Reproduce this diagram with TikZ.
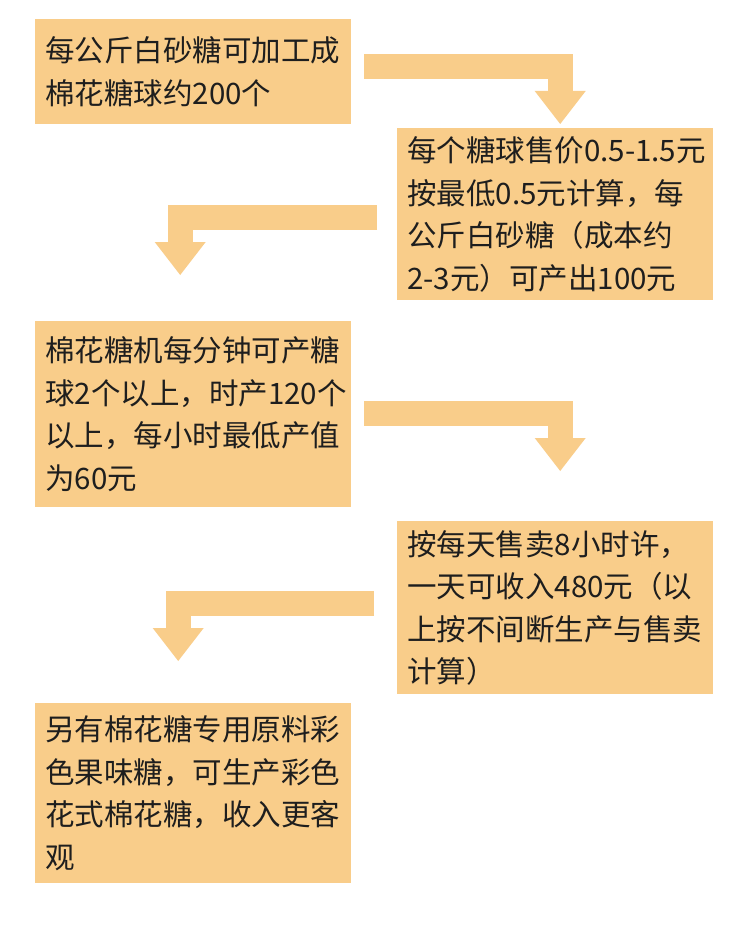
\documentclass[tikz,border=0pt]{standalone}
\usepackage{fontspec}
\newfontfamily\cjk{Noto Sans CJK SC}
\usetikzlibrary{positioning,arrows.meta,calc}
\definecolor{cBox}{HTML}{F9CD8A}
\definecolor{cInk}{HTML}{1E1E1E}

\begin{document}
\begin{tikzpicture}[x=1pt,y=1pt,
      stepbox/.style={fill=cBox,text=cInk,font=\cjk\fontsize{29.5}{42.5}\selectfont,
        align=left,text width=296pt,inner xsep=10pt,inner ysep=0pt,anchor=north west},
      bent/.style={draw=cBox,line width=25pt,line cap=butt,line join=miter,
        -{Triangle[width=51pt,length=33pt,line width=0pt]}}]
    \path[fill=white] (0,0) rectangle (750,-952);

    \node[stepbox,minimum height=105pt] (b1) at (35,-19)
      {每公斤白砂糖可加工成\\棉花糖球约200个};
    \node[stepbox,minimum height=172pt] (b2) at (397,-128)
      {\mbox{每个糖球售价0.5-1.5元}\\按最低0.5元计算，每\\公斤白砂糖（成本约\\2-3元）可产出100元};
    \node[stepbox,minimum height=186pt] (b3) at (35,-321)
      {棉花糖机每分钟可产糖\\球2个以上，时产120个\\以上，每小时最低产值\\为60元};
    \node[stepbox,minimum height=173pt] (b4) at (397,-521)
      {按每天售卖8小时许，\\一天可收入480元（以\\上按不间断生产与售卖\\计算）};
    \node[stepbox,minimum height=180pt] (b5) at (35,-703)
      {另有棉花糖专用原料彩\\色果味糖，可生产彩色\\花式棉花糖，收入更客\\观};

    % bent arrows between the steps
    \draw[bent] ([xshift=13pt,yshift=5pt]b1.east) -| ([xshift=5pt,yshift=4pt]b2.north);
    \draw[bent] ([xshift=-20pt,yshift=-3.5pt]b2.west) -| ([xshift=-13pt,yshift=46pt]b3.north);
    \draw[bent] ([xshift=13pt,yshift=0.5pt]b3.east) -| ([xshift=5pt,yshift=50pt]b4.north);
    \draw[bent] ([xshift=-23pt,yshift=4pt]b4.west) -| ([xshift=-15pt,yshift=42pt]b5.north);
  \end{tikzpicture}
\end{document}
